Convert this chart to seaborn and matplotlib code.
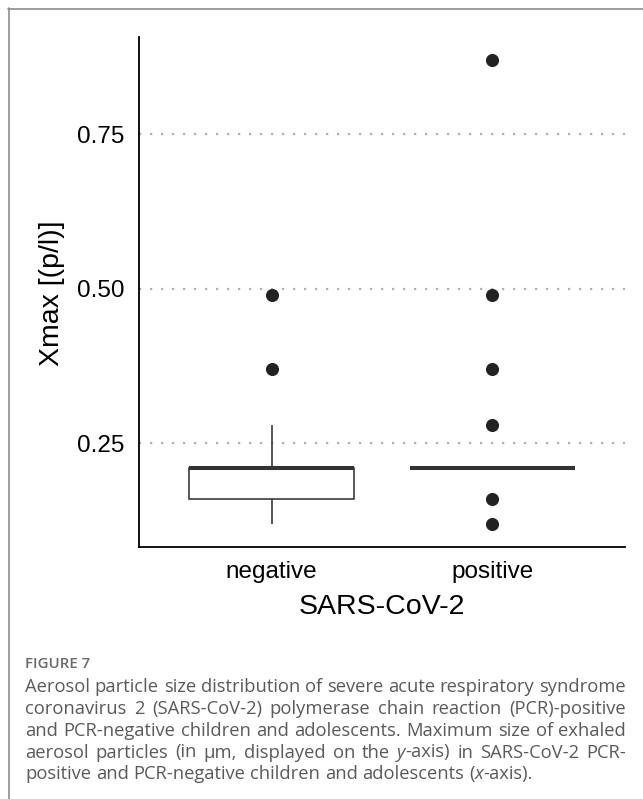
import re
import numpy as np
import pandas as pd
import matplotlib
matplotlib.use("Agg")
import matplotlib.pyplot as plt
from matplotlib.lines import Line2D
import seaborn as sns

# ---- data ----
groups = ["negative", "positive"]
negative_values = [0.12, 0.16, 0.16, 0.16, 0.21, 0.21, 0.21, 0.21, 0.21, 0.21,
                   0.28, 0.37, 0.49]
positive_values = [0.12, 0.16] + [0.21] * 12 + [0.28, 0.37, 0.49, 0.87]
y_ticks = [0.25, 0.50, 0.75]
y_tick_labels = ["0.25", "0.50", "0.75"]

x_title = "SARS-CoV-2"
y_title = "Xmax [(p/l)]"
fig_label = "FIGURE 7"
caption_lines = [
    "Aerosol particle size distribution of severe acute respiratory syndrome",
    "coronavirus 2 (SARS-CoV-2) polymerase chain reaction (PCR)-positive",
    "and PCR-negative children and adolescents. Maximum size of exhaled",
    "aerosol particles (in µm, displayed on the *y*-axis) in SARS-CoV-2 PCR-",
    "positive and PCR-negative children and adolescents (*x*-axis).",
]

df = pd.DataFrame({
    "group": ["negative"] * len(negative_values) + ["positive"] * len(positive_values),
    "value": negative_values + positive_values,
})

W, H = 643, 799
DPI = 100
sns.set_style("white")
plt.rcParams["font.family"] = ["Liberation Sans", "DejaVu Sans"]

fig = plt.figure(figsize=(W / DPI, H / DPI), dpi=DPI)
fig.patch.set_facecolor("white")

# axes placement in pixels
ax_l, ax_r, ax_top, ax_bot = 139, 625, 37, 547
ax = fig.add_axes([ax_l / W, 1 - ax_bot / H, (ax_r - ax_l) / W, (ax_bot - ax_top) / H])

# grid behind
for yv in y_ticks:
    ax.axhline(yv, color="#b0b0b0", lw=1.6, ls=(0, (1, 3.95)), zorder=0)

edge = "#333333"
sns.boxplot(
    data=df, x="group", y="value", order=groups, ax=ax,
    width=0.75, color="white", linecolor=edge, linewidth=1.15,
    showcaps=False, whis=1.5,
    medianprops=dict(color=edge, linewidth=2.9),
    flierprops=dict(marker="o", markerfacecolor="#222222",
                    markeredgecolor="#222222", markersize=8.4),
    zorder=2,
)

allv = np.array(negative_values + positive_values)
rng = allv.max() - allv.min()
ax.set_ylim(allv.min() - 0.05 * rng, allv.max() + 0.05 * rng)
ax.set_xlim(-0.6, 1.6)

ax.set_yticks(y_ticks)
ax.set_yticklabels(y_tick_labels)
ax.set_xlabel("")
ax.set_ylabel("")

for s in ["top", "right"]:
    ax.spines[s].set_visible(False)
for s in ["left", "bottom"]:
    ax.spines[s].set_color("black")
    ax.spines[s].set_linewidth(1.3)
ax.tick_params(axis="both", direction="out", length=5.5, width=1.3,
               color="black", labelsize=17.5, labelcolor="black")
ax.tick_params(axis="y", pad=5)
ax.tick_params(axis="x", pad=4.5)
ax.set_facecolor("white")

# axis titles
fig.text(381.5 / W, 1 - 607 / H, x_title, ha="center", va="center",
         fontsize=20.5, color="black")
fig.text(52 / W, 1 - 293 / H, y_title, ha="center", va="center",
         rotation=90, fontsize=20.5, color="black")

# frame lines (top and left)
fig.add_artist(Line2D([8 / W, 1], [1 - 8.5 / H, 1 - 8.5 / H],
                      transform=fig.transFigure, color="#8c8c8c", lw=1.2))
fig.add_artist(Line2D([8.5 / W, 8.5 / W], [1 - 8 / H, 0],
                      transform=fig.transFigure, color="#8c8c8c", lw=1.2))

# caption
cap_font = ["Open Sans", "DejaVu Sans"]
cap_color = "#5a5a5a"
left_px, right_px = 25, 626
fig.text(left_px / W, 1 - 668 / H, fig_label, ha="left", va="baseline",
         fontsize=10.8, color="#6a6a6a", family=cap_font, weight="semibold")

fig.canvas.draw()
renderer = fig.canvas.get_renderer()

baselines = [692, 714, 736, 757.5, 779]


def parse_word(word):
    parts = re.split(r"(\*[^*]+\*)", word)
    segs = []
    for p in parts:
        if not p:
            continue
        if p.startswith("*") and p.endswith("*"):
            segs.append((p[1:-1], "italic"))
        else:
            segs.append((p, "normal"))
    return segs


def seg_width(txt, style, size):
    t = fig.text(0, 0, txt, fontsize=size, family=cap_font, style=style)
    w = t.get_window_extent(renderer).width
    t.remove()
    return w


def natural_width(line, size):
    words = [parse_word(w) for w in line.split(" ")]
    sp = seg_width("a b", "normal", size) - seg_width("ab", "normal", size)
    tot = sum(seg_width(s, st, size) for wd in words for s, st in wd)
    return tot + sp * (len(words) - 1)


# choose caption size so justified lines have near-normal spacing
avail = right_px - left_px
base_size = 12.0
widest = max(natural_width(l, base_size) for l in caption_lines[:-1])
cap_size = base_size * (avail - 4) / widest

for i, (line, base) in enumerate(zip(caption_lines, baselines)):
    words = [parse_word(w) for w in line.split(" ")]
    widths = [[seg_width(s, st, cap_size) for s, st in wd] for wd in words]
    total = sum(sum(w) for w in widths)
    justify = i < len(caption_lines) - 1
    if justify and len(words) > 1:
        gap = (right_px - left_px - total) / (len(words) - 1)
    else:
        gap = seg_width("a b", "normal", cap_size) - seg_width("ab", "normal", cap_size)
    x = left_px
    for wd, ws in zip(words, widths):
        xx = x
        for (s, st), w in zip(wd, ws):
            fig.text(xx / W, 1 - base / H, s, ha="left", va="baseline",
                     fontsize=cap_size, family=cap_font, style=st, color=cap_color)
            xx += w
        x += sum(ws) + gap

fig.savefig("out.png", dpi=DPI, facecolor="white")
